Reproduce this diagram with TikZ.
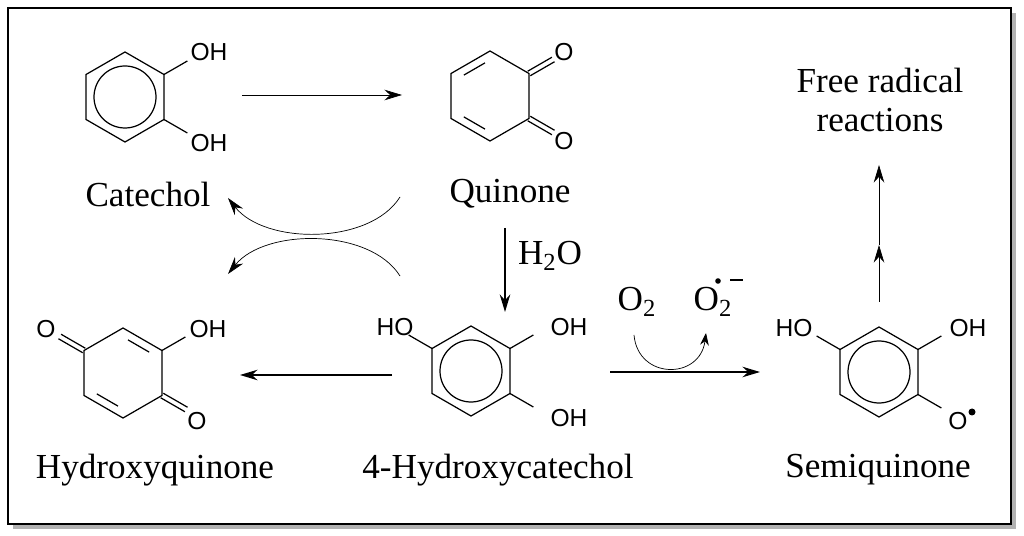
\documentclass[tikz,border=0pt]{standalone}
\usepackage{fontspec}
\setmainfont{Liberation Serif}
\newfontfamily\atomfont{Liberation Sans}
\usetikzlibrary{arrows.meta,calc}
\newcommand\hexring{\draw[bond] (90:45)--(30:45)--(-30:45)--(-90:45)--(-150:45)--(150:45)--cycle;}
\newcommand\innerdbl[2]{\draw[bond] ($(#1:36)!0.16!(#2:36)$) -- ($(#1:36)!0.84!(#2:36)$);}
\newcommand\exodbl[1]{\draw[bond] ([shift={(#1+90:2.6)}]#1:45) -- ([shift={(#1+90:2.6)}]#1:73);
  \draw[bond] ([shift={(#1-90:2.6)}]#1:45) -- ([shift={(#1-90:2.6)}]#1:73);}
\newcommand\single[1]{\draw[bond] (#1:45) -- (#1:72);}
\begin{document}
\begin{tikzpicture}[x=0.02cm,y=-0.02cm,
  bond/.style={line width=0.7pt},
  atom/.style={font=\atomfont\fontsize{14}{14}\selectfont,inner sep=1pt},
  lbl/.style={font=\fontsize{20}{22}\selectfont,align=center,inner sep=1pt},
  rx/.style={line width=0.8pt,-{Stealth[length=10pt,width=6pt]}},
  rxthin/.style={line width=0.4pt,-{Stealth[length=10pt,width=6pt]}}]
\useasboundingbox (0,0) rectangle (1024,536);
\fill[gray!60] (13,13) rectangle (1016,529);
\draw[line width=1.2pt,fill=white] (8,8) rectangle (1011,524);
% Catechol
\begin{scope}[shift={(125,97)}]
\hexring
\draw[bond] (0,0) circle (31);
\single{30}\single{-30}
\end{scope}
\node[atom] (c1) at (209,52) {OH};
\node[atom] (c2) at (209,143) {OH};
\node[lbl] (cat) at (148,194) {Catechol};
% Quinone
\begin{scope}[shift={(490,96)}]
\hexring
\innerdbl{-90}{-150}\innerdbl{150}{90}
\exodbl{30}\exodbl{-30}
\end{scope}
\node[atom] (q1) at (564,52) {O};
\node[atom] (q2) at (564,141) {O};
\node[lbl] (quin) at (510,194) {Quinone};
% Hydroxyquinone
\begin{scope}[shift={(123,373)}]
\hexring
\innerdbl{-90}{-30}\innerdbl{90}{150}
\exodbl{-150}\exodbl{30}\single{-30}
\end{scope}
\node[atom] (h1) at (46,329) {O};
\node[atom] (h2) at (208,329) {OH};
\node[atom] (h3) at (197,421) {O};
\node[lbl] (hq) at (155,470) {Hydroxyquinone};
% 4-Hydroxycatechol
\begin{scope}[shift={(471,371)}]
\hexring
\draw[bond] (0,0) circle (31);
\single{-150}\single{-30}\single{30}
\end{scope}
\node[atom] (k1) at (395,327) {HO};
\node[atom] (k2) at (569,327) {OH};
\node[atom] (k3) at (569,418) {OH};
\node[lbl] (hc) at (498,470) {4-Hydroxycatechol};
% Semiquinone
\begin{scope}[shift={(879,372)}]
\hexring
\draw[bond] (0,0) circle (31);
\single{-150}\single{-30}\single{30}
\end{scope}
\node[atom] (s1) at (794,328) {HO};
\node[atom] (s2) at (968,328) {OH};
\node[atom] (s3) at (958,421) {O};
\fill (972,412) circle (3.5);
\node[lbl] (sq) at (878,470) {Semiquinone};
\node[lbl] (fr) at (880,100) {Free radical\\reactions};
% arrows
\coordinate (a1) at (242,95); \coordinate (a2) at (402,95);
\draw[rxthin] (a1) -- (a2);
\coordinate (b1) at (400,197); \coordinate (b2) at (228,198);
\draw[rxthin] (b1) .. controls (370,245) and (265,245) .. (b2);
\coordinate (b3) at (400,276); \coordinate (b4) at (228,274);
\draw[rxthin] (b3) .. controls (370,228) and (265,228) .. (b4);
\coordinate (w1) at (505,228); \coordinate (w2) at (505,312);
\draw[rx] (w1) -- (w2);
\node[lbl] (h2o) at (550,256) {H\textsubscript{2}O};
\coordinate (d1) at (392,375); \coordinate (d2) at (240,375);
\draw[rx] (d1) -- (d2);
\coordinate (e1) at (610,372); \coordinate (e2) at (760,372);
\draw[rx] (e1) -- (e2);
\node[lbl] (o2) at (637,302) {O\textsubscript{2}};
\node[lbl] (o2r) at (713,302) {O\textsubscript{2}};
\fill (718,281) circle (2.8);
\draw[line width=0.7pt] (730,280) -- (743,280);
\coordinate (f1) at (634,335); \coordinate (f2) at (706,333);
\draw[rxthin,-{Stealth[length=7pt,width=5pt]}] (f1) .. controls (638,380) and (700,380) .. (f2);
\coordinate (g1) at (879,302); \coordinate (g2) at (879,245); \coordinate (g3) at (879,165);
\draw[rxthin] (g1) -- (g2);
\draw[rxthin] (g2) -- (g3);
\end{tikzpicture}
\end{document}
